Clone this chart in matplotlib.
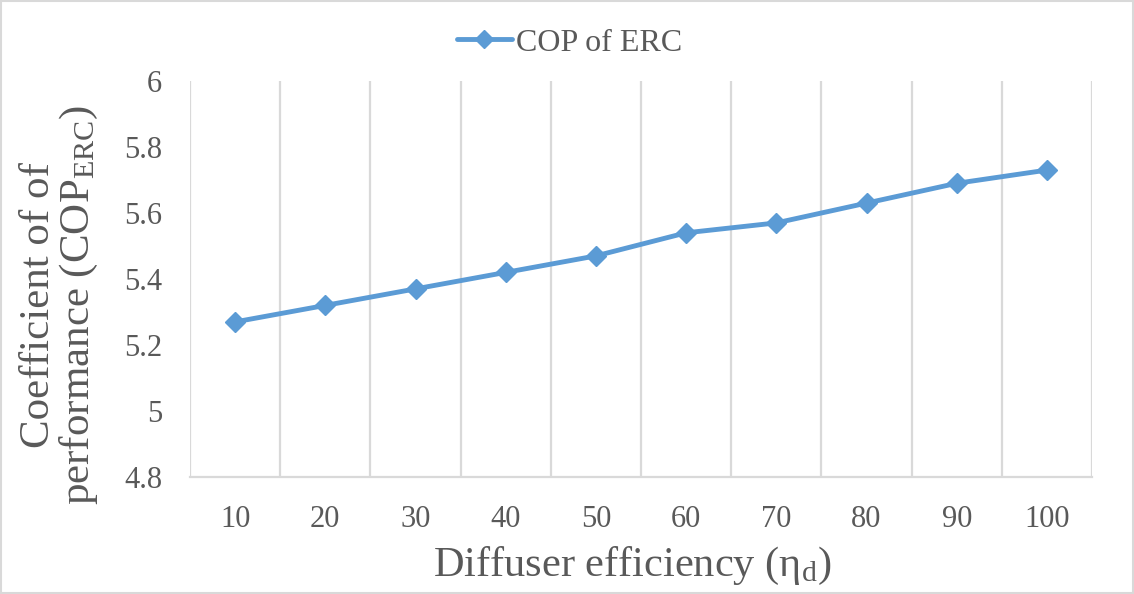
import numpy as np
import matplotlib
matplotlib.use("Agg")
import matplotlib.pyplot as plt
from matplotlib.patches import Rectangle

# data
efficiency = [10, 20, 30, 40, 50, 60, 70, 80, 90, 100]
cop_erc = [5.27, 5.32, 5.37, 5.42, 5.47, 5.54, 5.57, 5.63, 5.69, 5.73]
y_ticks = [4.8, 5.0, 5.2, 5.4, 5.6, 5.8, 6.0]
y_tick_labels = ["4.8", "5", "5.2", "5.4", "5.6", "5.8", "6"]

TXT = "#595959"
GRID = "#D9D9D9"
BLUE = "#5B9BD5"

plt.rcParams["font.family"] = ["Liberation Serif", "DejaVu Serif"]
plt.rcParams["mathtext.fontset"] = "custom"
plt.rcParams["mathtext.rm"] = "Liberation Serif"
plt.rcParams["mathtext.it"] = "Liberation Serif:italic"

W, H = 1134, 594
fig = plt.figure(figsize=(W / 100, H / 100), dpi=100)
ax = fig.add_axes([190 / W, 1 - 477 / H, 902 / W, 396 / H])

x = np.arange(len(efficiency))
ax.plot(x, cop_erc, color=BLUE, lw=3.5, marker="D", markersize=10,
        label="COP of ERC", solid_capstyle="round")

ax.set_xlim(-0.5, len(efficiency) - 0.5)
ax.set_ylim(4.8, 6.0)
ax.set_xticks(x)
ax.set_xticklabels([str(v) for v in efficiency])
ax.set_yticks(y_ticks)
ax.set_yticklabels(y_tick_labels)

# category borders as vertical gridlines
ax.set_xticks(np.arange(-0.5, len(efficiency)), minor=True)
ax.grid(which="minor", axis="x", color=GRID, lw=1.6)
ax.tick_params(which="both", length=0)
ax.tick_params(axis="x", labelsize=22, colors=TXT, pad=20)
ax.tick_params(axis="y", labelsize=22, colors=TXT, pad=20)

for side in ["top", "right", "left"]:
    ax.spines[side].set_visible(False)
ax.spines["bottom"].set_color(GRID)
ax.spines["bottom"].set_linewidth(1.6)

fig.text(632 / W, 1 - 566 / H, r"Diffuser efficiency ($\mathrm{\eta}_\mathrm{d}$)",
         ha="center", va="center", fontsize=30.5, color=TXT)
fig.text(60 / W, 1 - 305 / H,
         "Coefficient of of\nperformance (COP$_\\mathrm{ERC}$)",
         rotation=90, ha="center", va="center", multialignment="center",
         fontsize=31, color=TXT, linespacing=1.0)

fig.legend(loc="center", bbox_to_anchor=(570 / W, 1 - 43 / H), frameon=False,
           fontsize=23, labelcolor=TXT, handlelength=1.7, handletextpad=0.15,
           markerscale=0.9)

# light frame round the whole chart
fig.patches.append(Rectangle((0.001, 0.001), 0.998, 0.997, transform=fig.transFigure,
                             fill=False, edgecolor=GRID, lw=1.5))

fig.savefig("out.png", dpi=100)
